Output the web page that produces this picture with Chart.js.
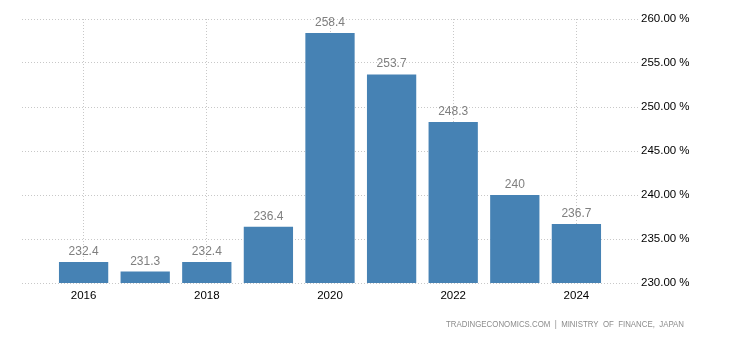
<!DOCTYPE html>
<html>
<head>
<meta charset="utf-8">
<script src="https://cdn.jsdelivr.net/npm/chart.js@4/dist/chart.umd.min.js"></script>
<style>
html,body{margin:0;padding:0;background:#fff;}
#wrap{width:730px;height:340px;position:relative;}
</style>
</head>
<body>
<div id="wrap"><canvas id="c" width="730" height="340"></canvas></div>
<script>
const years = [2016, 2017, 2018, 2019, 2020, 2021, 2022, 2023, 2024];
const values = [232.4, 231.3, 232.4, 236.4, 258.4, 253.7, 248.3, 240, 236.7];
const xTickYears = [2016, 2018, 2020, 2022, 2024];
const yTicks = [230, 235, 240, 245, 250, 255, 260];
const sourceText = 'TRADINGECONOMICS.COM  |  MINISTRY  OF  FINANCE,  JAPAN';

const FONT = '"Liberation Sans", Arial, sans-serif';
const firstYear = years[0];
const GRID = '#c8c8c8';

const valueLabels = {
  id: 'valueLabels',
  afterDatasetsDraw(chart) {
    const ctx = chart.ctx;
    const meta = chart.getDatasetMeta(0);
    ctx.save();
    ctx.font = '12px ' + FONT;
    ctx.fillStyle = '#7f7f7f';
    ctx.textAlign = 'center';
    ctx.textBaseline = 'alphabetic';
    meta.data.forEach((bar, i) => {
      ctx.fillText(String(values[i]), bar.x, bar.y - 7);
    });
    ctx.restore();
  }
};

const sourcePlugin = {
  id: 'sourcePlugin',
  afterDraw(chart) {
    const ctx = chart.ctx;
    ctx.save();
    ctx.font = '8.5px ' + FONT;
    ctx.fillStyle = '#8c8c8c';
    ctx.textAlign = 'right';
    ctx.textBaseline = 'middle';
    ctx.fillText(sourceText, 684, 325, 238);
    ctx.restore();
  }
};

new Chart(document.getElementById('c'), {
  type: 'bar',
  data: {
    datasets: [{
      data: years.map((y, i) => ({ x: y - firstYear, y: values[i] })),
      backgroundColor: '#4682b4',
      borderWidth: 0,
      barPercentage: 0.8,
      categoryPercentage: 1.0
    }]
  },
  options: {
    responsive: false,
    animation: false,
    events: [],
    layout: { padding: { left: 22, top: 19, right: 0, bottom: 0 } },
    plugins: { legend: { display: false }, tooltip: { enabled: false } },
    scales: {
      x: {
        type: 'linear',
        min: -1,
        max: years.length,
        offset: false,
        afterBuildTicks(scale) {
          scale.ticks = xTickYears.map(y => ({ value: y - firstYear }));
        },
        afterFit(scale) { scale.height = 57; },
        border: { display: false, dash: [1, 2] },
        grid: { color: GRID, offset: false, drawTicks: false, lineWidth: 1 },
        ticks: {
          padding: 6,
          color: '#000',
          font: { family: FONT, size: 11.5 },
          maxRotation: 0,
          autoSkip: false,
          callback: v => String(firstYear + v)
        }
      },
      y: {
        position: 'right',
        min: yTicks[0],
        max: yTicks[yTicks.length - 1],
        afterBuildTicks(scale) {
          scale.ticks = yTicks.map(v => ({ value: v }));
        },
        afterFit(scale) { scale.width = 92; },
        border: { display: false, dash: [1, 2] },
        grid: { color: GRID, drawTicks: false, lineWidth: 1 },
        ticks: {
          padding: 3,
          color: '#000',
          font: { family: FONT, size: 11.5 },
          callback: v => v.toFixed(2) + ' %'
        }
      }
    }
  },
  plugins: [valueLabels, sourcePlugin]
});
</script>
</body>
</html>
